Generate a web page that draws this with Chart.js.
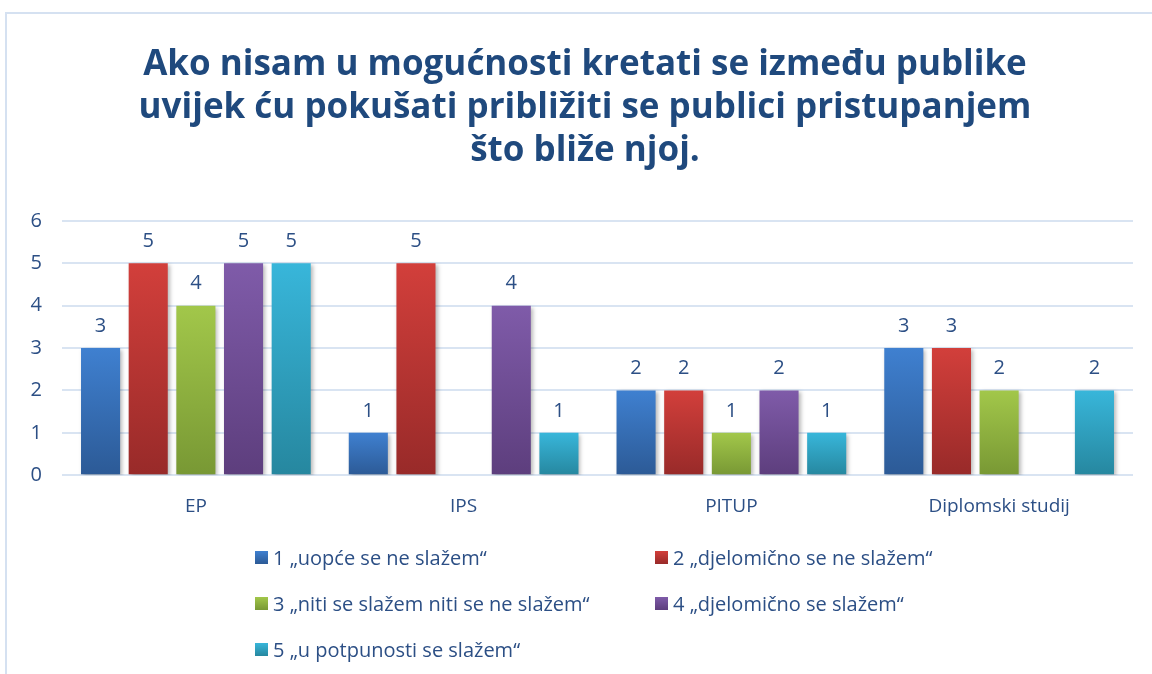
<!DOCTYPE html>
<html>
<head>
<meta charset="utf-8">
<script src="https://cdn.jsdelivr.net/npm/chart.js@4/dist/chart.umd.min.js"></script>
<style>
  html,body{margin:0;padding:0;background:#fff;overflow:hidden}
  body{width:1152px;height:674px;position:relative;font-family:"Open Sans",sans-serif}
  .frame{position:absolute;left:5px;top:12px;width:1160px;height:680px;border:2px solid #d5e1f1;box-sizing:border-box}
  .wrap{position:absolute;left:0;top:0;width:1170px;height:674px}
  #title{position:absolute;left:0;top:40px;width:1170px;text-align:center;color:#1f497d;font-weight:bold;font-size:35px;line-height:43px}
  #legend{position:absolute;left:255px;top:544px;display:grid;grid-template-columns:400px 400px;row-gap:19px;color:#2c4f85;font-size:20px}
  #legend .item{display:flex;align-items:center;height:27px;white-space:nowrap}
  #legend .box{width:13px;height:13px;margin-right:5px}
</style>
</head>
<body>
<div class="frame"></div>
<div class="wrap"><canvas id="c" width="1170" height="674"></canvas></div>
<div id="title"></div>
<div id="legend"></div>
<script>
const titleLines = ['Ako nisam u mogućnosti kretati se između publike','uvijek ću pokušati približiti se publici pristupanjem','što bliže njoj.'];
const categories = ['EP','IPS','PITUP','Diplomski studij'];
const seriesNames = ['1 „uopće se ne slažem“','2 „djelomično se ne slažem“','3 „niti se slažem niti se ne slažem“','4 „djelomično se slažem“','5 „u potpunosti se slažem“'];
const s1 = [3,1,2,3];
const s2 = [5,5,2,3];
const s3 = [4,null,1,2];
const s4 = [5,4,2,null];
const s5 = [5,1,1,2];
const yTicks = [0,1,2,3,4,5,6];

// top / bottom colours of each bar gradient
const colTop = ['#3f80d0','#d23f3b','#a2c74a','#7f5ba9','#38b6da'];
const colBot = ['#2c5a96','#982a29','#789834','#5d3e7d','#26879f'];
const txt = '#2c4f85';
const fam = '"Open Sans", sans-serif';

function barFill(i){
  return (ctx)=>{
    const chart = ctx.chart;
    const v = ctx.raw;
    const y = chart.scales && chart.scales.y;
    if(v==null || !y) return colTop[i];
    const top = y.getPixelForValue(v), bot = y.getPixelForValue(0);
    if(!isFinite(top) || !isFinite(bot) || top===bot) return colTop[i];
    const g = chart.ctx.createLinearGradient(0, top, 0, bot);
    g.addColorStop(0, colTop[i]);
    g.addColorStop(1, colBot[i]);
    return g;
  };
}

const shadowPlugin = {
  id:'shadow',
  beforeDatasetsDraw(chart){
    const c = chart.ctx; c.save();
    c.shadowColor='rgba(0,0,0,0.28)'; c.shadowBlur=4; c.shadowOffsetX=2; c.shadowOffsetY=2;
  },
  afterDatasetsDraw(chart){
    chart.ctx.restore();
    const c = chart.ctx;
    c.save();
    c.font = '20px ' + fam;
    c.fillStyle = txt; c.textAlign='center'; c.textBaseline='middle';
    chart.data.datasets.forEach((ds,di)=>{
      chart.getDatasetMeta(di).data.forEach((el,j)=>{
        const v = ds.data[j];
        if(v==null) return;
        c.fillText(String(v), el.x, el.y-22);
      });
    });
    c.restore();
  }
};

document.getElementById('title').innerHTML = titleLines.join('<br>');

const data = [s1,s2,s3,s4,s5];
const chart = new Chart(document.getElementById('c'),{
  type:'bar',
  data:{
    labels:categories,
    datasets:data.map((d,i)=>({label:seriesNames[i], data:d, backgroundColor:barFill(i), borderWidth:0}))
  },
  options:{
    responsive:false, animation:false,
    categoryPercentage:0.89, barPercentage:0.82,
    layout:{padding:{top:221,left:10,right:37,bottom:144}},
    plugins:{ legend:{display:false}, tooltip:{enabled:false} },
    scales:{
      x:{grid:{display:false}, border:{display:false},
        ticks:{color:txt, font:{family:fam, size:19}, padding:12}},
      y:{min:0,max:6, afterBuildTicks:(s)=>{s.ticks=yTicks.map(v=>({value:v}))},
        grid:{color:'#d9e4f2', lineWidth:2, drawTicks:false}, border:{display:false},
        ticks:{color:txt, font:{family:fam, size:20}, padding:20},
        afterFit:(s)=>{s.width=52}}
    }
  },
  plugins:[shadowPlugin]
});

const leg = document.getElementById('legend');
chart.data.datasets.forEach((ds,i)=>{
  const it = document.createElement('div'); it.className='item';
  it.innerHTML = `<span class="box" style="background:linear-gradient(${colTop[i]},${colBot[i]})"></span>${ds.label}`;
  leg.appendChild(it);
});
</script>
</body>
</html>
